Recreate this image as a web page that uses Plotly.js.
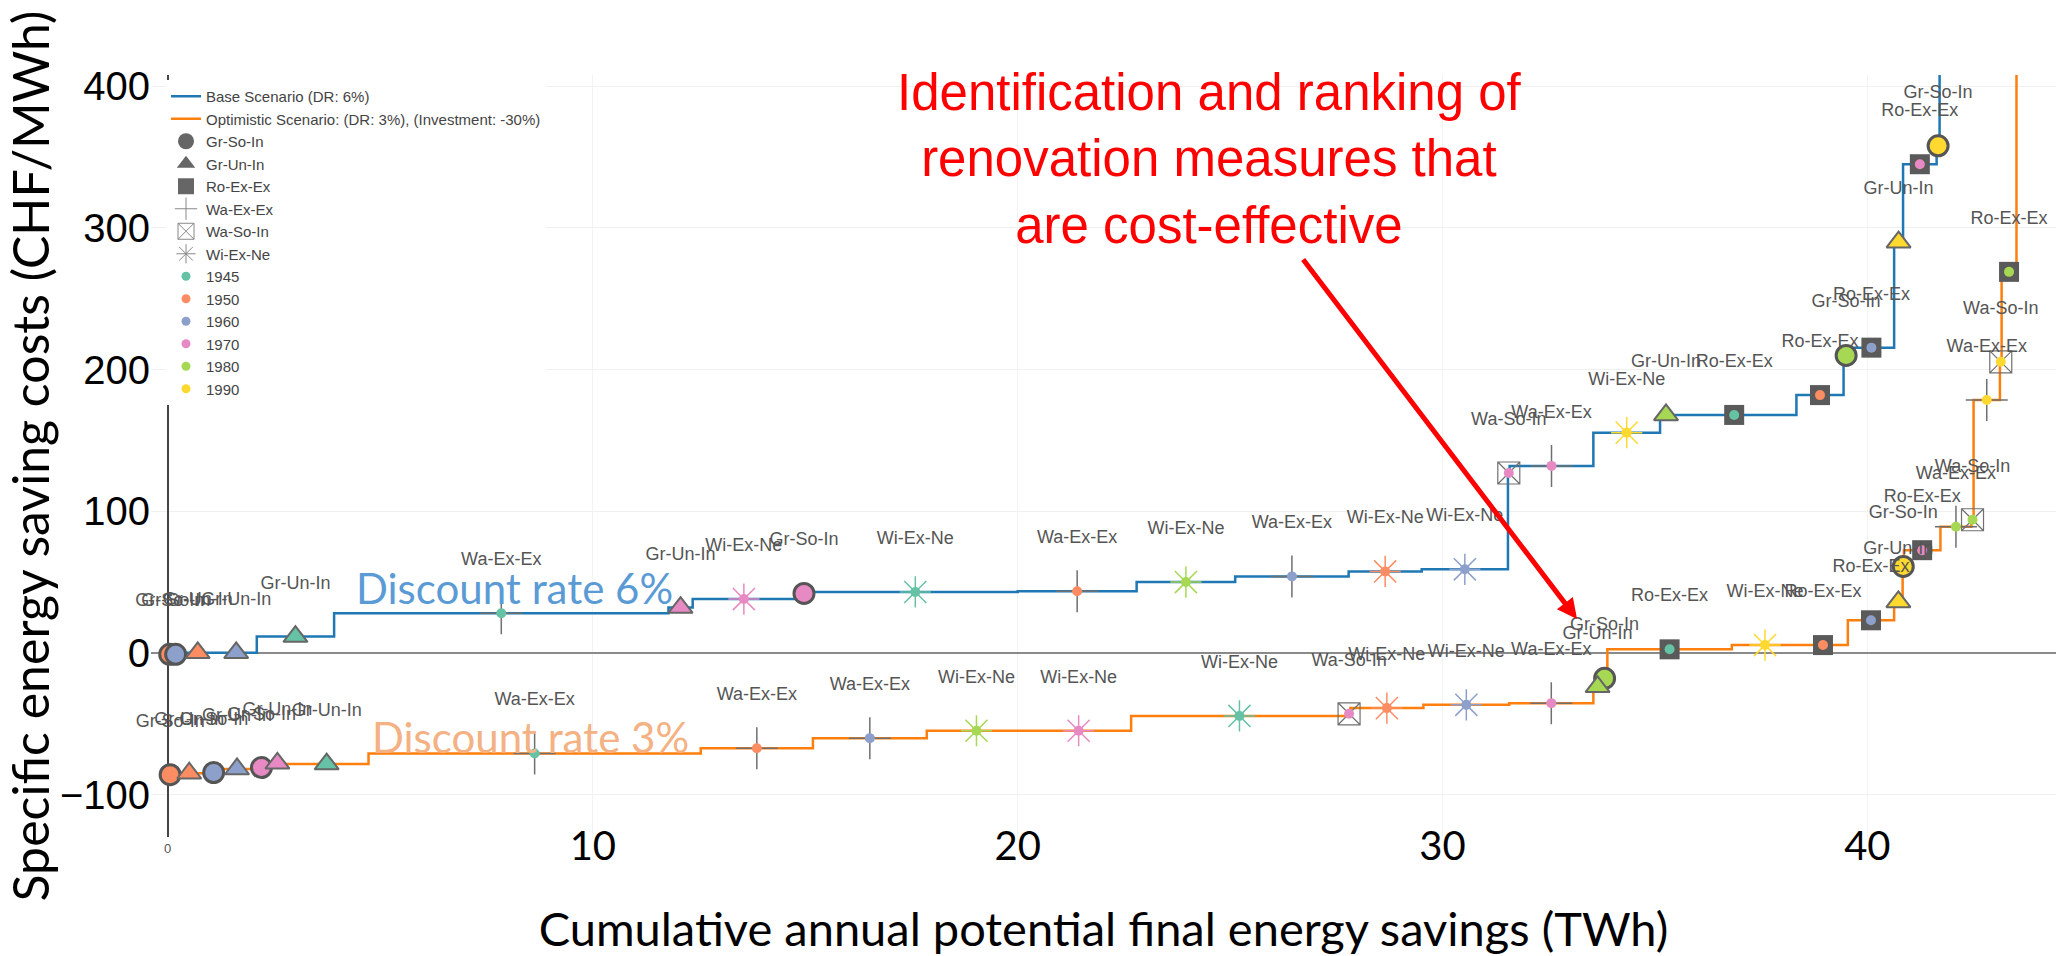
<!DOCTYPE html>
<html>
<head>
<meta charset="utf-8">
<script src="https://cdn.plot.ly/plotly-3.0.1.min.js"></script>
<style>
  html, body { margin: 0; padding: 0; background: #ffffff; }
  #chart { width: 2056px; height: 956px; }
</style>
</head>
<body>
<div id="chart"></div>
<script>
// ---------------- DATA ----------------
const years = [1945, 1950, 1960, 1970, 1980, 1990];
const yearColors = ['#66c2a5', '#fc8d62', '#8da0cb', '#e78ac3', '#a6d854', '#ffd92f'];
const measureTypes = ['Gr-So-In', 'Gr-Un-In', 'Ro-Ex-Ex', 'Wa-Ex-Ex', 'Wa-So-In', 'Wi-Ex-Ne'];

// Base Scenario (DR: 6%) - measures in order of increasing cost
const baseMeasure = ['Gr-So-In','Gr-So-In','Gr-Un-In','Gr-Un-In','Gr-Un-In','Wa-Ex-Ex','Gr-Un-In','Wi-Ex-Ne','Gr-So-In','Wi-Ex-Ne',
                     'Wa-Ex-Ex','Wi-Ex-Ne','Wa-Ex-Ex','Wi-Ex-Ne','Wi-Ex-Ne','Wa-So-In','Wa-Ex-Ex','Wi-Ex-Ne','Gr-Un-In','Ro-Ex-Ex',
                     'Ro-Ex-Ex','Gr-So-In','Ro-Ex-Ex','Gr-Un-In','Ro-Ex-Ex','Gr-So-In','Ro-Ex-Ex'];
const baseYear    = [1950,1960,1950,1960,1945,1945,1970,1970,1970,1945,
                     1950,1980,1960,1950,1960,1970,1970,1990,1980,1945,
                     1950,1980,1960,1990,1970,1990,1980];
const baseSavings = [0.08,0.20,0.84,0.97,1.82,7.87,0.57,2.41,0.42,4.82,
                     2.80,2.32,2.67,1.72,2.03,0.04,1.97,1.57,0.28,2.93,
                     1.11,0.12,1.07,0.21,0.79,0.07,0.60];
const baseCost    = [-1,-1,0,0,11.5,28,32,38,42,43,
                     43.5,50,54,57.5,59,127,132,155.5,168,168,
                     182,210,215.5,290,345,358,560];

// Optimistic Scenario: (DR: 3%), (Investment: -30%)
const optMeasure = ['Gr-So-In','Gr-Un-In','Gr-So-In','Gr-Un-In','Gr-So-In','Gr-Un-In','Gr-Un-In','Wa-Ex-Ex','Wa-Ex-Ex','Wa-Ex-Ex',
                    'Wi-Ex-Ne','Wi-Ex-Ne','Wi-Ex-Ne','Wa-So-In','Wi-Ex-Ne','Wi-Ex-Ne','Wa-Ex-Ex','Gr-Un-In','Gr-So-In','Ro-Ex-Ex',
                    'Wi-Ex-Ne','Ro-Ex-Ex','Ro-Ex-Ex','Gr-Un-In','Gr-So-In','Ro-Ex-Ex','Wa-Ex-Ex','Wa-So-In','Wa-Ex-Ex','Wa-So-In',
                    'Ro-Ex-Ex','Ro-Ex-Ex'];
const optYear    = [1950,1950,1960,1960,1970,1970,1945,1945,1950,1960,
                    1980,1970,1945,1970,1950,1960,1970,1980,1980,1945,
                    1990,1950,1960,1990,1990,1970,1980,1980,1990,1990,
                    1980,1990];
const optSavings = [0.10,0.80,0.35,0.75,0.40,0.35,1.97,7.82,2.64,2.68,
                    2.34,2.47,5.10,0.06,1.72,2.02,1.98,0.20,0.13,2.93,
                    1.56,1.17,1.09,0.20,0.03,0.86,0.73,0.05,0.62,0.04,
                    0.35,0.50];
const optCost    = [-86,-85,-84.5,-82,-81,-78,-78.5,-71,-67.3,-60.2,
                    -55,-55,-44.5,-43,-39,-36.7,-35.5,-24,-18,2.5,
                    5.5,5.5,23,36,61,72.5,89,94,178.5,205.5,
                    269,600];

const xTickValues = [10, 20, 30, 40];
const yTickValues = [-100, 0, 100, 200, 300, 400];

// ---------------- LAYOUT GEOMETRY ----------------
const W = 2056, H = 956;
const P = { l: 151, r: 2056, t: 75, b: 837 };
const xRange = [-0.4, 44.44];
const yRange = [-130, 408];
const fx = px => (px - P.l) / (P.r - P.l);
const fy = py => (P.b - py) / (P.b - P.t);

const FONT_ARIAL = 'Liberation Sans, Arial, sans-serif';
const FONT_SLIDE = 'Lato, Carlito, sans-serif';

const colorOf = y => yearColors[years.indexOf(y)];

const styles = {
  'Gr-So-In': { symbol: 'circle', size: 20, yearFill: true, line: { color: '#555555', width: 3 }, dot: false },
  'Gr-Un-In': { symbol: 'triangle-up', size: 21, yearFill: true, line: { color: '#666666', width: 2 }, dot: false },
  'Ro-Ex-Ex': { symbol: 'square', size: 20, fill: '#5a5a5a', line: { width: 0 }, dot: true },
  'Wa-Ex-Ex': { symbol: 'cross-thin-open', size: 30, fill: '#707070', line: { width: 1.5 }, dot: true },
  'Wa-So-In': { symbol: 'square-x-open', size: 22, fill: '#707070', line: { width: 1.2 }, dot: true },
  'Wi-Ex-Ne': { symbol: 'asterisk-open', size: 26, yearFill: true, line: { width: 1.5 }, dot: true }
};

function buildScenario(measure, year, savings, cost) {
  const edges = [0];
  savings.forEach((s, i) => edges.push(edges[i] + s));
  const mid = savings.map((s, i) => (edges[i] + edges[i + 1]) / 2);
  return { measure, year, cost, mid, lineX: edges, lineY: cost.concat([cost[cost.length - 1]]) };
}

const base = buildScenario(baseMeasure, baseYear, baseSavings, baseCost);
const opt = buildScenario(optMeasure, optYear, optSavings, optCost);

const traces = [];
traces.push({
  type: 'scatter', mode: 'lines', name: 'Base Scenario (DR: 6%)',
  x: base.lineX, y: base.lineY, line: { shape: 'hv', color: '#1f77b4', width: 2.5 }, hoverinfo: 'skip'
});
traces.push({
  type: 'scatter', mode: 'lines', name: 'Optimistic Scenario: (DR: 3%), (Investment: -30%)',
  x: opt.lineX, y: opt.lineY, line: { shape: 'hv', color: '#ff7f0e', width: 2.5 }, hoverinfo: 'skip'
});

function markerTraces(sc) {
  const inView = i => sc.cost[i] <= yRange[1] && sc.cost[i] >= yRange[0];
  const idxAll = sc.measure.map((m, i) => i).filter(inView);
  measureTypes.forEach(t => {
    const st = styles[t];
    const idx = idxAll.filter(i => sc.measure[i] === t);
    if (!idx.length) return;
    traces.push({
      type: 'scatter', mode: 'markers', showlegend: false, hoverinfo: 'skip',
      x: idx.map(i => sc.mid[i]), y: idx.map(i => sc.cost[i]),
      marker: {
        symbol: st.symbol, size: st.size,
        color: st.yearFill ? idx.map(i => colorOf(sc.year[i])) : st.fill,
        line: st.line
      }
    });
  });
  const dotIdx = idxAll.filter(i => styles[sc.measure[i]].dot);
  traces.push({
    type: 'scatter', mode: 'markers', showlegend: false, hoverinfo: 'skip',
    x: dotIdx.map(i => sc.mid[i]), y: dotIdx.map(i => sc.cost[i]),
    marker: { symbol: 'circle', size: 10, color: dotIdx.map(i => colorOf(sc.year[i])), line: { width: 0 } }
  });
  traces.push({
    type: 'scatter', mode: 'markers+text', showlegend: false, hoverinfo: 'skip', cliponaxis: false,
    x: idxAll.map(i => sc.mid[i]), y: idxAll.map(i => sc.cost[i]),
    text: idxAll.map(i => sc.measure[i]), textposition: 'top center',
    textfont: { family: FONT_ARIAL, size: 18, color: '#555555' },
    marker: { size: 68, color: 'rgba(0,0,0,0)', line: { width: 0 } }
  });
}
markerTraces(base);
markerTraces(opt);

// legend-only entries: measure shapes (grey) and construction periods (colours)
const legendShapes = {
  'Gr-So-In': { symbol: 'circle', color: '#666666', lw: 0 },
  'Gr-Un-In': { symbol: 'triangle-up', color: '#666666', lw: 0 },
  'Ro-Ex-Ex': { symbol: 'square', color: '#666666', lw: 0 },
  'Wa-Ex-Ex': { symbol: 'cross-thin-open', color: '#888888', lw: 1 },
  'Wa-So-In': { symbol: 'square-x-open', color: '#888888', lw: 1 },
  'Wi-Ex-Ne': { symbol: 'asterisk-open', color: '#888888', lw: 1 }
};
measureTypes.forEach(t => {
  const s = legendShapes[t];
  traces.push({
    type: 'scatter', mode: 'markers', name: t, x: [null], y: [null],
    marker: { symbol: s.symbol, size: 16, color: s.color, line: { width: s.lw } }
  });
});
years.forEach((y, i) => {
  traces.push({
    type: 'scatter', mode: 'markers', name: String(y), x: [null], y: [null],
    marker: { symbol: 'circle', size: 9, color: yearColors[i], line: { width: 0 } }
  });
});

const layout = {
  width: W, height: H,
  margin: { l: P.l, r: W - P.r, t: P.t, b: H - P.b, pad: 0 },
  paper_bgcolor: '#ffffff', plot_bgcolor: '#ffffff',
  hovermode: false,
  showlegend: true,
  legend: {
    x: fx(166), xanchor: 'left', y: fy(80), yanchor: 'top',
    bgcolor: '#ffffff', borderwidth: 0, tracegroupgap: 0,
    font: { family: FONT_ARIAL, size: 15, color: '#444444' }
  },
  xaxis: {
    range: xRange, tickvals: xTickValues, ticks: '', automargin: false,
    tickfont: { family: FONT_SLIDE, size: 40, color: '#000000' },
    ticklabelstandoff: -18,
    showgrid: true, gridcolor: '#f3f3f3', gridwidth: 1,
    zeroline: true, zerolinecolor: '#444444', zerolinewidth: 1.5,
    showline: false,
    title: { text: 'Cumulative annual potential final energy savings (TWh)',
             font: { family: FONT_SLIDE, size: 47, color: '#000000' }, standoff: 46 }
  },
  yaxis: {
    range: yRange, tickvals: yTickValues, ticks: '', automargin: false,
    tickfont: { family: FONT_ARIAL, size: 40, color: '#000000' },
    showgrid: true, gridcolor: '#f0f0f0', gridwidth: 1,
    zeroline: true, zerolinecolor: '#8a8a8a', zerolinewidth: 2,
    showline: false,
    title: { text: 'Specific energy saving costs (CHF/MWh)',
             font: { family: FONT_SLIDE, size: 50, color: '#000000' }, standoff: 6 }
  },
  annotations: [
    {
      xref: 'paper', yref: 'paper', x: fx(1209), y: fy(159), xanchor: 'center', yanchor: 'middle',
      text: 'Identification and ranking of<br>renovation measures that<br>are cost-effective',
      showarrow: false, align: 'center',
      font: { family: FONT_ARIAL, size: 51, color: '#ff0000' }
    },
    {
      xref: 'paper', yref: 'paper', x: fx(1577), y: fy(619), text: '',
      showarrow: true, arrowhead: 2, arrowsize: 0.8, arrowwidth: 5, arrowcolor: '#ff0000',
      ax: 1302 - 1577, ay: 258 - 619, standoff: 0
    },
    {
      xref: 'paper', yref: 'paper', x: fx(514), y: fy(588), xanchor: 'center', yanchor: 'middle',
      text: 'Discount rate 6%', showarrow: false,
      font: { family: FONT_SLIDE, size: 42, color: '#5b9bd5' }
    },
    {
      xref: 'paper', yref: 'paper', x: fx(530), y: fy(737), xanchor: 'center', yanchor: 'middle',
      text: 'Discount rate 3%', showarrow: false,
      font: { family: FONT_SLIDE, size: 42, color: '#f4b183' }
    },
    {
      xref: 'x', yref: 'paper', x: 0, y: 0, xanchor: 'center', yanchor: 'top', yshift: -2,
      text: '0', showarrow: false,
      font: { family: FONT_ARIAL, size: 13, color: '#555555' }
    }
  ]
};

Plotly.newPlot('chart', traces, layout, { displayModeBar: false, staticPlot: true });
</script>
</body>
</html>
